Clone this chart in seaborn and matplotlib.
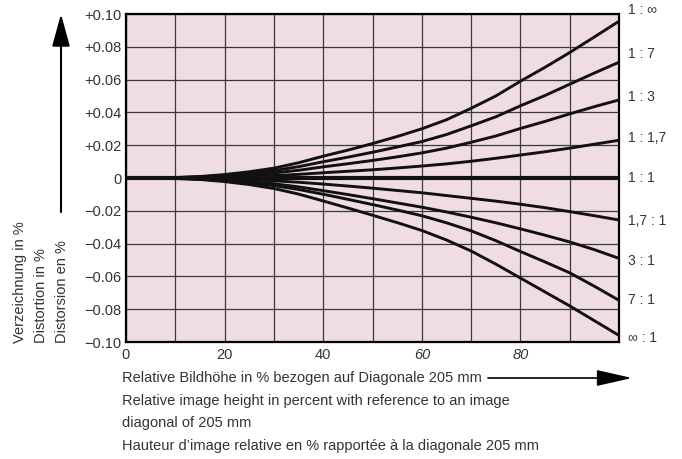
import numpy as np
import pandas as pd
import seaborn as sns
import matplotlib.pyplot as plt

# relative image height in % (x axis)
image_height = [0, 5, 10, 15, 20, 25, 30, 35, 40, 45, 50, 55, 60, 65, 70, 75, 80, 85, 90, 95, 100]

# distortion in % for each reproduction ratio
dist_1_inf = [0, 0, 0.0003, 0.0009, 0.0021, 0.0038, 0.0060, 0.0093, 0.0133, 0.0170, 0.0210, 0.0253,
              0.0300, 0.0355, 0.0425, 0.0500, 0.0590, 0.0675, 0.0765, 0.0860, 0.0956]
dist_1_7 = [0, 0, 0.0002, 0.0007, 0.0016, 0.0028, 0.0045, 0.0069, 0.0099, 0.0127, 0.0157, 0.0189,
            0.0222, 0.0265, 0.0318, 0.0373, 0.0440, 0.0503, 0.0572, 0.0640, 0.0706]
dist_1_3 = [0, 0, 0.0002, 0.0005, 0.0011, 0.0019, 0.0031, 0.0047, 0.0068, 0.0087, 0.0107, 0.0129,
            0.0153, 0.0182, 0.0218, 0.0256, 0.0302, 0.0345, 0.0391, 0.0435, 0.0476]
dist_1_17 = [0, 0, 0.0001, 0.0002, 0.0005, 0.0009, 0.0015, 0.0022, 0.0032, 0.0041, 0.0050, 0.0061,
             0.0073, 0.0086, 0.0102, 0.0120, 0.0140, 0.0160, 0.0182, 0.0206, 0.0230]
dist_1_1 = [0, 0, 0, 0, 0, 0, 0, 0, 0, 0, 0, 0, 0, 0, 0, 0, 0, 0, 0, 0, 0]
dist_17_1 = [0, 0, -0.0001, -0.0002, -0.0005, -0.0010, -0.0017, -0.0026, -0.0037, -0.0049, -0.0062, -0.0076,
             -0.0090, -0.0107, -0.0124, -0.0141, -0.0160, -0.0181, -0.0205, -0.0230, -0.0256]
dist_3_1 = [0, 0, -0.0002, -0.0005, -0.0012, -0.0022, -0.0035, -0.0054, -0.0077, -0.0101, -0.0126, -0.0152,
            -0.0178, -0.0207, -0.0239, -0.0273, -0.0310, -0.0349, -0.0390, -0.0437, -0.0490]
dist_7_1 = [0, 0, -0.0002, -0.0007, -0.0016, -0.0029, -0.0046, -0.0070, -0.0099, -0.0130, -0.0162, -0.0195,
            -0.0230, -0.0273, -0.0322, -0.0382, -0.0448, -0.0512, -0.0578, -0.0660, -0.0746]
dist_inf_1 = [0, 0, -0.0003, -0.0009, -0.0022, -0.0040, -0.0064, -0.0098, -0.0140, -0.0183, -0.0227, -0.0272,
              -0.0320, -0.0378, -0.0445, -0.0525, -0.0610, -0.0695, -0.0780, -0.0870, -0.0960]

curve_labels = ["1 : \u221e", "1 : 7", "1 : 3", "1 : 1,7", "1 : 1", "1,7 : 1", "3 : 1", "7 : 1", "\u221e : 1"]
curves = [dist_1_inf, dist_1_7, dist_1_3, dist_1_17, dist_1_1, dist_17_1, dist_3_1, dist_7_1, dist_inf_1]

ytick_values = [0.10, 0.08, 0.06, 0.04, 0.02, 0, -0.02, -0.04, -0.06, -0.08, -0.10]
ytick_labels = ["+0.10", "+0.08", "+0.06", "+0.04", "+0.02", "0",
                "\u22120.02", "\u22120.04", "\u22120.06", "\u22120.08", "\u22120.10"]
xtick_values = [0, 10, 20, 30, 40, 50, 60, 70, 80, 90, 100]
xtick_labels = ["0", "", "20", "", "40", "", "60", "", "80", "", ""]

ylabel_lines = ["Verzeichnung in %", "Distortion in %", "Distorsion en %"]
xlabel_lines = ["Relative Bildh\u00f6he in % bezogen auf Diagonale 205 mm",
                "Relative image height in percent with reference to an image",
                "diagonal of 205 mm",
                "Hauteur d\u2019image relative en % rapport\u00e9e \u00e0 la diagonale 205 mm"]

df = pd.concat([pd.DataFrame({"height": image_height, "distortion": vals, "ratio": lab})
                for lab, vals in zip(curve_labels, curves)], ignore_index=True)

PINK = "#efdde3"
INK = "#111111"
TXT = "#333333"
W, H = 682, 459

sns.set_theme(style="white")
plt.rcParams['font.family'] = ['Liberation Sans', 'DejaVu Sans']

fig = plt.figure(figsize=(W / 100, H / 100), dpi=100)
ax = fig.add_axes([126 / W, 1 - 342 / H, (619 - 126) / W, (342 - 14) / H])
ax.set_facecolor(PINK)

for lab in curve_labels:
    lw = 3.0 if lab == "1 : 1" else 2.1
    sns.lineplot(data=df[df.ratio == lab], x="height", y="distortion",
                 color=INK, lw=lw, ax=ax, legend=False, zorder=3)

ax.set_xlim(0, 100)
ax.set_ylim(-0.10, 0.10)
ax.set_xticks(xtick_values, labels=xtick_labels)
ax.set_yticks(ytick_values, labels=ytick_labels)
ax.grid(True, color="#3a3a3a", lw=0.9)
ax.set_axisbelow(True)
ax.tick_params(axis="both", length=0, labelsize=10.5, labelcolor=TXT)
ax.tick_params(axis="y", pad=3)
ax.tick_params(axis="x", pad=4)
for lbl in ax.get_xticklabels():
    if lbl.get_text() in ("60", "80"):
        lbl.set_style("italic")
for s in ax.spines.values():
    s.set_visible(True)
    s.set_color("black")
    s.set_linewidth(1.6)
ax.set_xlabel("")
ax.set_ylabel("")

# ratio labels at the right end of each curve (nudges in pixels, up positive)
nudges = [11, 8, 3, 2, 0, -1, -3, 0, -3]
for lab, vals, nd in zip(curve_labels, curves, nudges):
    ax.annotate(lab, xy=(100, vals[-1]), xytext=(9 * 0.72, nd * 0.72), textcoords="offset points",
                ha="left", va="center", fontsize=10, color=TXT, annotation_clip=False)

# rotated y axis titles
for xpos, txt in zip([20, 41, 62], ylabel_lines):
    fig.text(xpos / W, 1 - 343 / H, txt, rotation=90, ha="center", va="bottom",
             fontsize=10.5, color=TXT)

# x axis titles
for ypos, txt in zip([378, 401, 423, 446], xlabel_lines):
    fig.text(122 / W, 1 - ypos / H, txt, ha="left", va="center", fontsize=10.5, color=TXT)

# arrows
ax.annotate("", xy=(632, H - 378), xycoords="figure pixels", xytext=(488, H - 378),
            textcoords="figure pixels", annotation_clip=False,
            arrowprops=dict(arrowstyle="-|>,head_length=22,head_width=5", mutation_scale=1,
                            lw=1.2, color="black", shrinkA=0, shrinkB=0))
ax.annotate("", xy=(61, H - 14), xycoords="figure pixels", xytext=(61, H - 212),
            textcoords="figure pixels", annotation_clip=False,
            arrowprops=dict(arrowstyle="-|>,head_length=20,head_width=5.5", mutation_scale=1,
                            lw=1.5, color="black", shrinkA=0, shrinkB=0))

fig.savefig("out.png", dpi=100)
